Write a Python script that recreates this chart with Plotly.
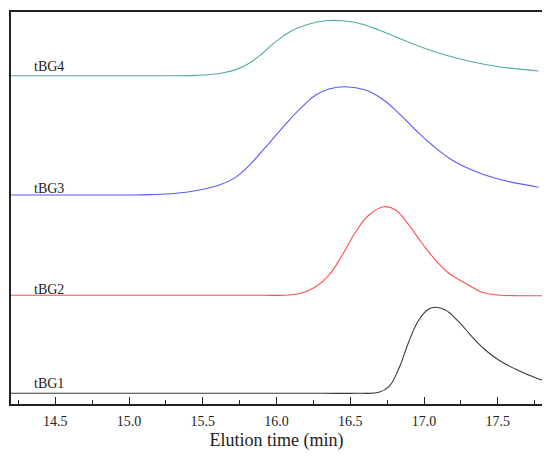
import plotly.graph_objects as go

# GPC traces (x in min, y in arbitrary stacked units)
x_tbg1 = [14.2, 15.0, 15.8, 16.3, 16.559, 16.694, 16.762, 16.83, 16.897, 16.965, 17.032, 17.078, 17.145,
          17.235, 17.325, 17.416, 17.506, 17.619, 17.765, 17.8]
y_tbg1 = [0.11, 0.11, 0.11, 0.11, 0.109, 0.119, 0.177, 0.364, 0.636, 0.857, 0.969, 0.987, 0.959,
          0.84, 0.687, 0.551, 0.449, 0.357, 0.262, 0.245]

x_tbg2 = [14.2, 15.0, 15.6, 15.9, 16.085, 16.175, 16.266, 16.356, 16.446, 16.537, 16.627, 16.728, 16.807,
          16.897, 16.987, 17.078, 17.168, 17.281, 17.393, 17.506, 17.641, 17.8]
y_tbg2 = [1.11, 1.11, 1.11, 1.11, 1.112, 1.136, 1.197, 1.316, 1.52, 1.758, 1.929, 2.013, 1.98,
          1.827, 1.64, 1.469, 1.334, 1.232, 1.14, 1.112, 1.105, 1.105]

x_tbg3 = [14.2, 14.6, 14.98, 15.138, 15.319, 15.476, 15.612, 15.725, 15.815, 15.905, 15.995, 16.085,
          16.175, 16.266, 16.356, 16.469, 16.604, 16.717, 16.83, 16.943, 17.055, 17.19, 17.325,
          17.484, 17.777]
y_tbg3 = [2.133, 2.133, 2.133, 2.136, 2.15, 2.184, 2.235, 2.315, 2.435, 2.585, 2.74, 2.895,
          3.034, 3.153, 3.214, 3.238, 3.204, 3.112, 2.966, 2.796, 2.643, 2.49, 2.388,
          2.303, 2.211]

x_tbg4 = [14.2, 14.8, 15.138, 15.454, 15.612, 15.725, 15.815, 15.905, 15.995, 16.085, 16.198, 16.334,
          16.446, 16.559, 16.694, 16.83, 16.987, 17.145, 17.325, 17.506, 17.777]
y_tbg4 = [3.35, 3.35, 3.35, 3.353, 3.372, 3.412, 3.477, 3.579, 3.697, 3.793, 3.867, 3.911,
          3.911, 3.885, 3.816, 3.732, 3.64, 3.561, 3.493, 3.442, 3.398]

names = ["tBG1", "tBG2", "tBG3", "tBG4"]
label_y = [0.21, 1.17, 2.2, 3.44]
colors = ["#3a3a3a", "#ff5050", "#5a5aff", "#52aaa4"]

fig = go.Figure()
for xs, ys, name, c in zip([x_tbg1, x_tbg2, x_tbg3, x_tbg4], [y_tbg1, y_tbg2, y_tbg3, y_tbg4], names, colors):
    fig.add_trace(go.Scatter(x=xs, y=ys, mode="lines", name=name,
                             line=dict(color=c, width=1.1, shape="spline", smoothing=1.2)))

#curve labels sit just above each baseline
for name, ly in zip(names, label_y):
    fig.add_annotation(x=14.34, y=ly, text=name, showarrow=False, xanchor="left", yanchor="middle",
                       font=dict(family="Liberation Serif", size=14, color="#222"))

#page body has an 8px margin, so the figure is a bit smaller and the margins trimmed
fig.update_layout(
    width=542, height=455,
    margin=dict(l=3, r=8, t=4, b=59),
    paper_bgcolor="white", plot_bgcolor="white",
    showlegend=False,
    font=dict(family="Liberation Serif", color="#222"),
)
fig.update_xaxes(range=[14.2, 17.8], dtick=0.5, tick0=14.5, tickformat=".1f", automargin=False,
                 ticks="inside", ticklen=7, tickcolor="#222", showgrid=False, zeroline=False,
                 showline=True, linecolor="#222", linewidth=1.5, mirror=True, ticklabelstandoff=3,
                 minor=dict(dtick=0.25, tick0=14.25, ticks="inside", ticklen=4, tickcolor="#222"),
                 tickfont=dict(size=14), title=dict(text="Elution time (min)", font=dict(size=18), standoff=6))
fig.update_yaxes(range=[0, 4], showticklabels=False, ticks="", showgrid=False, zeroline=False,
                 automargin=False, showline=True, linecolor="#222", linewidth=1.5, mirror=True)

fig.write_html("out.html")
